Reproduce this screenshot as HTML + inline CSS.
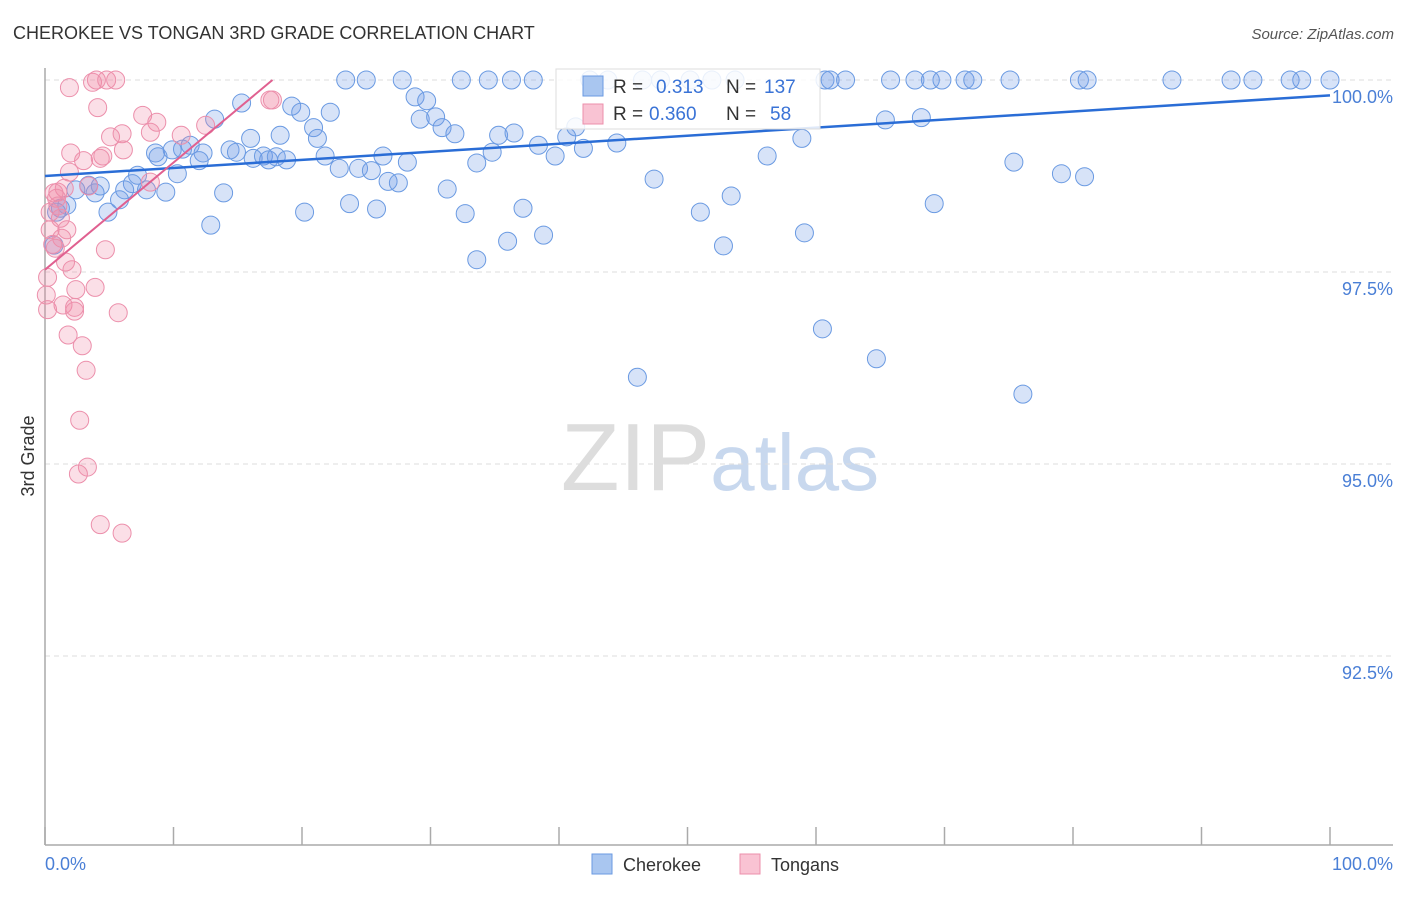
<!DOCTYPE html>
<html><head><meta charset="utf-8"><style>
body{margin:0;background:#fff;font-family:"Liberation Sans",sans-serif;}
svg text{font-family:"Liberation Sans",sans-serif;}
</style></head><body>
<svg id="chart" width="1406" height="892" xmlns="http://www.w3.org/2000/svg">
<text x="13" y="39" font-size="18" fill="#333">CHEROKEE VS TONGAN 3RD GRADE CORRELATION CHART</text>
<text x="1394" y="39" font-size="15" fill="#555" text-anchor="end" font-style="italic">Source: ZipAtlas.com</text>
<text x="720" y="490" font-size="96" text-anchor="middle" fill="#ddd" font-family="Liberation Serif">ZIP<tspan fill="#c8d8ee" font-family="Liberation Sans" font-size="80">atlas</tspan></text>
<g id="grid"></g>
<line x1="45" y1="68" x2="45" y2="845" stroke="#aaa" stroke-width="1.5"/>
<line x1="45" y1="845" x2="1393" y2="845" stroke="#aaa" stroke-width="1.5"/>
<text transform="translate(34,456) rotate(-90)" font-size="18" fill="#333" text-anchor="middle">3rd Grade</text>
<text x="45" y="870" font-size="18" fill="#4a7fd6">0.0%</text>
<text x="1393" y="870" font-size="18" fill="#4a7fd6" text-anchor="end">100.0%</text>
<g id="points"></g>
<g id="lines"></g>
<g>
<rect x="556" y="69" width="264" height="60" fill="#fff" fill-opacity="0.85" stroke="#ddd"/>
<rect x="583" y="76" width="20" height="20" fill="#a9c6f0" stroke="#6a9ae2"/>
<rect x="583" y="104" width="20" height="20" fill="#f9c3d3" stroke="#ec8fab"/>
<text x="613" y="93" font-size="19" fill="#333">R =</text>
<text x="656" y="93" font-size="19" fill="#3a73d6">0.313</text>
<text x="726" y="93" font-size="19" fill="#333">N =</text>
<text x="764" y="93" font-size="19" fill="#3a73d6">137</text>
<text x="613" y="120" font-size="19" fill="#333">R =</text>
<text x="649" y="120" font-size="19" fill="#3a73d6">0.360</text>
<text x="726" y="120" font-size="19" fill="#333">N =</text>
<text x="770" y="120" font-size="19" fill="#3a73d6">58</text>
</g>
<g><rect x="592" y="854" width="20" height="20" fill="#a9c6f0" stroke="#6a9ae2"/><text x="623" y="871" font-size="18" fill="#333">Cherokee</text></g>
<g><rect x="740" y="854" width="20" height="20" fill="#f9c3d3" stroke="#ec8fab"/><text x="771" y="871" font-size="18" fill="#333">Tongans</text></g>
</svg>
<script>
const yTicks=[100,97.5,95,92.5];
const yTickLabels=["100.0%","97.5%","95.0%","92.5%"];
const xTicks=[0,10,20,30,40,50,60,70,80,90,100];
const blueX=[23.4,25.0,27.8,32.4,34.5,36.3,38.0,42.4,43.8,46.5,47.9,50.2,51.9,53.7,60.7,61.1,62.3,65.8,67.7,68.9,69.8,71.6,72.2,75.1,80.5,81.1,87.7,92.3,94.0,96.9,97.8,100,
15.3,13.2,19.2,19.9,22.2,20.9,21.2,28.8,29.7,29.2,30.4,30.9,31.9,35.3,36.5,41.3,40.6,44.5,58.9,65.4,68.2,16.0,18.3,11.3,8.6,8.8,9.9,10.7,12.3,12.0,14.4,14.9,16.2,17.0,17.4,18.0,18.8,21.8,22.9,24.4,25.4,26.3,26.7,27.5,28.2,33.6,34.8,38.4,39.7,41.9,56.2,75.4,79.1,80.9,47.4,31.3,23.7,25.8,20.2,37.2,32.7,51.0,53.4,69.2,12.9,13.9,9.4,10.3,7.2,7.9,6.8,6.2,5.8,4.9,3.9,4.3,3.4,2.4,1.7,0.9,1.2,0.7,36.0,38.8,33.6,52.8,59.1,60.5,64.7,46.1,76.1];
const blueY=[100,100,100,100,100,100,100,100,100,100,100,100,100,100,100,100,100,100,100,100,100,100,100,100,100,100,100,100,100,100,100,100,
99.70,99.49,99.66,99.58,99.58,99.38,99.24,99.78,99.73,99.49,99.52,99.38,99.30,99.28,99.31,99.39,99.26,99.18,99.24,99.48,99.51,99.24,99.28,99.15,99.05,99.00,99.09,99.10,99.05,98.95,99.09,99.06,98.98,99.01,98.96,99.00,98.96,99.01,98.85,98.85,98.82,99.01,98.68,98.66,98.93,98.92,99.06,99.15,99.01,99.11,99.01,98.93,98.78,98.74,98.71,98.58,98.39,98.32,98.28,98.33,98.26,98.28,98.49,98.39,98.11,98.53,98.54,98.78,98.76,98.57,98.65,98.57,98.44,98.28,98.53,98.62,98.63,98.57,98.37,98.28,98.33,97.85,97.90,97.98,97.66,97.84,98.01,96.76,96.37,96.13,95.91];
const pinkX=[1.9,3.7,4.0,4.8,5.5,4.1,5.1,6.0,7.6,8.7,8.2,10.6,12.5,17.5,17.7,6.1,4.5,3.0,4.3,2.0,1.9,1.5,1.0,0.9,0.7,1.2,1.7,1.3,0.4,0.6,0.8,4.7,2.1,1.6,0.2,0.1,0.2,1.4,2.3,2.3,3.9,2.4,5.7,1.8,2.9,3.2,2.7,3.3,2.6,4.3,6.0,8.2,3.4,1.0,0.4];
const pinkY=[99.90,99.97,100,100,100,99.64,99.26,99.30,99.54,99.45,99.32,99.28,99.41,99.74,99.74,99.09,99.01,98.95,98.98,99.05,98.80,98.59,98.54,98.46,98.53,98.20,98.05,97.94,98.05,97.86,97.81,97.79,97.53,97.63,97.43,97.20,97.01,97.07,97.04,96.99,97.30,97.27,96.97,96.68,96.54,96.22,95.57,94.96,94.87,94.21,94.10,98.67,98.62,98.36,98.28];
const blueLine=[[0,98.75],[100,99.80]];
const pinkLine=[[0,97.53],[17.7,100]];
const NS="http://www.w3.org/2000/svg";
function sx(v){return 45+v*12.85;}
function sy(v){return 80+(100-v)*76.8;}
function mk(t,a,p){const e=document.createElementNS(NS,t);for(const k in a)e.setAttribute(k,a[k]);p.appendChild(e);return e;}
const grid=document.getElementById('grid');
yTicks.forEach((t,i)=>{
 const l=mk('line',{x1:45,x2:1393,y1:sy(t),y2:sy(t),stroke:'#ddd','stroke-dasharray':'5,4'},grid);
 
 
 const tx=mk('text',{x:1393,y:sy(t)+23,'font-size':18,fill:'#4a7fd6','text-anchor':'end'},grid);
 tx.textContent=yTickLabels[i];
 
 
});
xTicks.forEach(t=>{
 const l=mk('line',{x1:sx(t),x2:sx(t),y1:827,y2:845,stroke:'#aaa','stroke-width':1.5},grid);
 
 
});
const pts=document.getElementById('points');
blueX.forEach((x,i)=>{
 const c=mk('circle',{cx:sx(x),cy:sy(blueY[i]),r:9,fill:'rgba(110,155,230,0.28)',stroke:'#6a9ae2','stroke-width':1},pts);
 
 
});
pinkX.forEach((x,i)=>{
 const c=mk('circle',{cx:sx(x),cy:sy(pinkY[i]),r:9,fill:'rgba(240,140,170,0.28)',stroke:'#ec8fab','stroke-width':1},pts);
 
 
});
const ln=document.getElementById('lines');
const bl=mk('line',{x1:sx(blueLine[0][0]),y1:sy(blueLine[0][1]),x2:sx(blueLine[1][0]),y2:sy(blueLine[1][1]),stroke:'#2a6dd6','stroke-width':2.5},ln);


const pl=mk('line',{x1:sx(pinkLine[0][0]),y1:sy(pinkLine[0][1]),x2:sx(pinkLine[1][0]),y2:sy(pinkLine[1][1]),stroke:'#e06090','stroke-width':2},ln);


</script>
</body></html>
